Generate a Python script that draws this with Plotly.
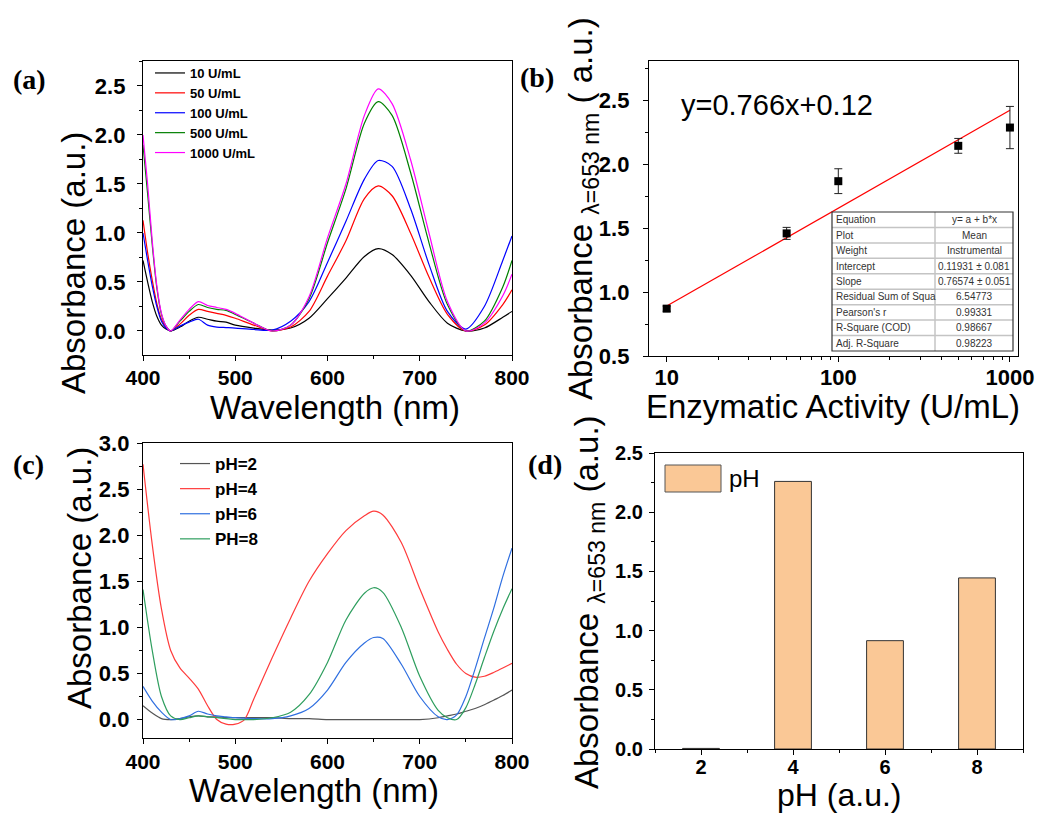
import plotly.graph_objects as go

W, H = 1038, 814
F = "Liberation Sans, Arial, sans-serif"
FS = "Liberation Serif, Times New Roman, serif"

# ---------------- panel (a) data ----------------
wl_a = [400, 405, 410, 415, 420, 425, 430, 440, 450, 460, 470, 480, 490, 500, 520, 540,
        560, 580, 600, 620, 640, 655, 670, 690, 710, 730, 750, 770, 790, 800]
a_names = ["10 U/mL", "50 U/mL", "100 U/mL", "500 U/mL", "1000 U/mL"]
a_colors = ["#000000", "#ff0000", "#0000ff", "#008000", "#ff00ff"]
a_10 = [0.72, 0.50, 0.30, 0.15, 0.06, 0.02, 0.0, 0.04, 0.10, 0.14, 0.12, 0.10, 0.09, 0.06, 0.03, 0.01,
        0.03, 0.13, 0.33, 0.54, 0.76, 0.84, 0.78, 0.57, 0.30, 0.08, 0.0, 0.03, 0.14, 0.20]
a_50 = [1.13, 0.80, 0.52, 0.28, 0.12, 0.04, 0.0, 0.07, 0.16, 0.22, 0.20, 0.18, 0.16, 0.13, 0.06, 0.0,
        0.04, 0.20, 0.56, 0.92, 1.35, 1.48, 1.38, 1.00, 0.55, 0.17, 0.0, 0.06, 0.27, 0.42]
a_100 = [1.00, 0.72, 0.46, 0.25, 0.10, 0.03, 0.0, 0.05, 0.09, 0.12, 0.06, 0.04, 0.035, 0.03, 0.015, 0.01,
         0.10, 0.30, 0.70, 1.12, 1.55, 1.74, 1.68, 1.25, 0.68, 0.20, 0.02, 0.25, 0.72, 0.97]
a_500 = [1.90, 1.40, 0.88, 0.44, 0.17, 0.05, 0.0, 0.10, 0.20, 0.27, 0.24, 0.22, 0.21, 0.17, 0.08, 0.0,
         0.06, 0.33, 0.90, 1.45, 2.12, 2.34, 2.20, 1.62, 0.90, 0.27, 0.0, 0.10, 0.45, 0.72]
a_1000 = [2.00, 1.50, 0.92, 0.46, 0.18, 0.05, 0.0, 0.11, 0.22, 0.30, 0.26, 0.24, 0.22, 0.18, 0.08, 0.0,
          0.06, 0.35, 0.95, 1.50, 2.20, 2.47, 2.32, 1.75, 1.00, 0.30, 0.0, 0.08, 0.36, 0.58]
a_series = [a_10, a_50, a_100, a_500, a_1000]

# ---------------- panel (b) data ----------------
activity = [10, 50, 100, 500, 1000]
abs653 = [0.87, 1.458, 1.866, 2.142, 2.285]
abs653_err = [0.02, 0.047, 0.097, 0.058, 0.165]
fit_x = [10, 1000]
fit_y = [0.89, 2.42]
fit_label = "y=0.766x+0.12"
table_keys = ["Equation", "Plot", "Weight", "Intercept", "Slope", "Residual Sum of Squa",
              "Pearson's r", "R-Square (COD)", "Adj. R-Square"]
table_vals = ["y= a + b*x", "Mean", "Instrumental", "0.11931 ± 0.081", "0.76574 ± 0.051",
              "6.54773", "0.99331", "0.98667", "0.98223"]

# ---------------- panel (c) data ----------------
wl_c = [400, 410, 420, 430, 440, 450, 460, 470, 480, 490, 500, 510, 520, 540, 560, 580, 600, 620,
        640, 650, 660, 680, 700, 720, 730, 740, 750, 760, 770, 780, 790, 800]
c_names = ["pH=2", "pH=4", "pH=6", "PH=8"]
c_colors = ["#555555", "#ff3b3b", "#2f6fe0", "#2e9e5e"]
c_ph2 = [0.15, 0.07, 0.01, 0.0, 0.01, 0.03, 0.04, 0.03, 0.03, 0.02, 0.02, 0.02, 0.02, 0.02, 0.01, 0.01,
         0.0, 0.0, 0.0, 0.0, 0.0, 0.0, 0.0, 0.02, 0.04, 0.06, 0.09, 0.12, 0.16, 0.21, 0.26, 0.32]
c_ph4 = [2.77, 1.90, 1.20, 0.75, 0.56, 0.45, 0.33, 0.15, 0.0, -0.05, -0.05, 0.0, 0.22, 0.67, 1.10, 1.50,
         1.80, 2.05, 2.21, 2.26, 2.22, 1.92, 1.42, 0.95, 0.76, 0.60, 0.50, 0.46, 0.47, 0.51, 0.56, 0.61]
c_ph6 = [0.36, 0.20, 0.08, 0.0, 0.01, 0.04, 0.09, 0.06, 0.04, 0.03, 0.02, 0.015, 0.01, 0.01, 0.04, 0.12,
         0.32, 0.62, 0.83, 0.89, 0.88, 0.60, 0.25, 0.03, 0.0, 0.05, 0.25, 0.55, 0.88, 1.20, 1.55, 1.86]
c_ph8 = [1.41, 0.75, 0.25, 0.04, 0.0, 0.02, 0.04, 0.03, 0.02, 0.01, 0.0, 0.0, 0.0, 0.02, 0.08, 0.27,
         0.62, 1.08, 1.37, 1.43, 1.38, 1.00, 0.47, 0.10, 0.02, 0.0, 0.13, 0.38, 0.67, 0.95, 1.20, 1.42]
c_series = [c_ph2, c_ph4, c_ph6, c_ph8]

# ---------------- panel (d) data ----------------
ph_vals = [2, 4, 6, 8]
ph_abs = [0.005, 2.26, 0.915, 1.445]
bar_color = "#fac896"


def px_x(p):
    return p / W


def px_y(p):
    return 1 - p / H


fig = go.Figure()

for name, col, ys in zip(a_names, a_colors, a_series):
    fig.add_trace(go.Scatter(x=wl_a, y=ys, mode="lines", name=name,
                             line=dict(color=col, width=1.2, shape="spline", smoothing=0.8),
                             xaxis="x", yaxis="y", legend="legend"))

fig.add_trace(go.Scatter(x=fit_x, y=fit_y, mode="lines", line=dict(color="#ff0000", width=1.2),
                         xaxis="x2", yaxis="y2", showlegend=False))
fig.add_trace(go.Scatter(x=activity, y=abs653, mode="markers",
                         marker=dict(symbol="square", size=8, color="black"),
                         error_y=dict(type="data", array=abs653_err, color="#222", thickness=1, width=4),
                         xaxis="x2", yaxis="y2", showlegend=False))

for name, col, ys in zip(c_names, c_colors, c_series):
    fig.add_trace(go.Scatter(x=wl_c, y=ys, mode="lines", name=name,
                             line=dict(color=col, width=1.2, shape="spline", smoothing=0.8),
                             xaxis="x3", yaxis="y3", legend="legend2"))

fig.add_trace(go.Bar(x=ph_vals, y=ph_abs, width=0.8, name="pH",
                     marker=dict(color=bar_color, line=dict(color="#333", width=1)),
                     xaxis="x4", yaxis="y4", showlegend=False))


def ax(size, **kw):
    base = dict(showline=True, linecolor="black", linewidth=1.3, mirror=True,
                ticks="outside", ticklen=5, tickwidth=1.2, tickcolor="black",
                showgrid=False, zeroline=False, automargin=False,
                tickfont=dict(family=F, size=size, color="black", weight="bold"))
    base.update(kw)
    return base


minor_s = dict(ticklen=3, tickwidth=1, tickcolor="black", ticks="outside")

fig.update_layout(
    template="none",
    width=W, height=H, autosize=False,
    margin=dict(l=0, r=0, t=0, b=0, pad=0),
    paper_bgcolor="white", plot_bgcolor="white",
    xaxis=ax(21, domain=[px_x(143), px_x(512)], anchor="y", range=[400, 800], dtick=100,
             minor=dict(dtick=50, **minor_s), ticklabelstandoff=-1),
    yaxis=ax(22, domain=[px_y(355), px_y(61)], anchor="x", range=[-0.245, 2.755], dtick=0.5,
             tickformat=".1f", minor=dict(dtick=0.25, **minor_s), ticklabelstandoff=7),
    xaxis2=ax(22, domain=[px_x(649), px_x(1018)], anchor="y2", type="log", range=[0.897, 3.047],
              tickvals=[10, 100, 1000], ticktext=["10", "100", "1000"],
              minor=dict(tickvals=[20, 30, 40, 50, 60, 70, 80, 90, 200, 300, 400, 500, 600, 700, 800, 900],
                         **minor_s), ticklabelstandoff=-4),
    yaxis2=ax(22, domain=[px_y(356), px_y(61)], anchor="x2", range=[0.5, 2.805], dtick=0.5,
              tickformat=".1f", minor=dict(dtick=0.25, **minor_s), ticklabelstandoff=9),
    xaxis3=ax(21, domain=[px_x(143), px_x(512)], anchor="y3", range=[400, 800], dtick=100,
              minor=dict(dtick=50, **minor_s), ticklabelstandoff=0),
    yaxis3=ax(22, domain=[px_y(738), px_y(443)], anchor="x3", range=[-0.2, 3.0], dtick=0.5,
              tickformat=".1f", minor=dict(dtick=0.25, **minor_s), ticklabelstandoff=3),
    xaxis4=ax(20, domain=[px_x(655), px_x(1023)], anchor="y4", range=[1, 9],
              tickvals=[2, 4, 6, 8], minor=dict(dtick=1, **minor_s), ticklabelstandoff=-5),
    yaxis4=ax(20, domain=[px_y(749), px_y(453)], anchor="x4", range=[0, 2.5], dtick=0.5,
              tickformat=".1f", minor=dict(dtick=0.25, **minor_s), ticklabelstandoff=2),
    legend=dict(x=px_x(150), y=px_y(58), xanchor="left", yanchor="top", bgcolor="rgba(0,0,0,0)",
                font=dict(family=F, size=13, color="black", weight="bold"), tracegroupgap=0,
                itemwidth=30, borderwidth=0),
    legend2=dict(x=px_x(175), y=px_y(446), xanchor="left", yanchor="top", bgcolor="rgba(0,0,0,0)",
                 font=dict(family=F, size=17, color="black", weight="bold"), tracegroupgap=0,
                 itemwidth=30, borderwidth=0),
    bargap=0.2,
    showlegend=True,
)

# fit-results table of panel (b): grid + texts built from table_keys / table_vals
T_X0, T_X1, T_XS, T_Y0, T_Y1 = 832, 1013, 935, 212, 351
n_rows = len(table_keys)
row_h = (T_Y1 - T_Y0) / n_rows
shapes = []
for i in range(1, n_rows):
    yy = T_Y0 + i * row_h
    shapes.append(dict(type="line", xref="paper", yref="paper", x0=px_x(T_X0), x1=px_x(T_X1),
                       y0=px_y(yy), y1=px_y(yy), line=dict(color="#c4c4c4", width=1.5)))
shapes.append(dict(type="line", xref="paper", yref="paper", x0=px_x(T_XS), x1=px_x(T_XS),
                   y0=px_y(T_Y0), y1=px_y(T_Y1), line=dict(color="#c4c4c4", width=1.5)))
shapes.append(dict(type="rect", xref="paper", yref="paper", x0=px_x(T_X0), x1=px_x(T_X1),
                   y0=px_y(T_Y1), y1=px_y(T_Y0), line=dict(color="#333", width=1.2)))
# legend swatch for (d)
shapes.append(dict(type="rect", xref="paper", yref="paper", x0=px_x(665), x1=px_x(721),
                   y0=px_y(492), y1=px_y(465), fillcolor=bar_color, line=dict(color="#555", width=1)))
fig.update_layout(shapes=shapes)

ann = []


def add_text(text, x, y, size, family=F, angle=0, weight="normal", xanchor="center", color="black"):
    ann.append(dict(text=text, x=px_x(x), y=px_y(y), xref="paper", yref="paper", showarrow=False,
                    textangle=angle, xanchor=xanchor, yanchor="middle",
                    font=dict(family=family, size=size, color=color, weight=weight)))


for i, (k, v) in enumerate(zip(table_keys, table_vals)):
    yc = T_Y0 + (i + 0.5) * row_h
    add_text(k, T_X0 + 2, yc, 10, xanchor="left", color="#333")
    add_text(v, (T_XS + T_X1) / 2, yc, 10, color="#333")

TS = 33
add_text("Wavelength (nm)", 335, 407, TS)
add_text("Absorbance (a.u.)", 73, 263, TS, angle=-90)
add_text("Enzymatic Activity (U/mL)", 833, 406, TS)
add_text("Absorbance <sub>λ=653 nm</sub> ( a.u.)", 583, 209, TS, angle=-90)
add_text("Wavelength (nm)", 314, 790, TS)
add_text("Absorbance (a.u.)", 79, 578, TS, angle=-90)
add_text("pH (a.u.)", 839, 795, 32)
add_text("Absorbance <sub>λ=653 nm</sub> (a.u.)", 589, 602, TS, angle=-90)
add_text(fit_label, 777, 105, 29)
add_text("pH", 727, 478, 24, xanchor="left")
add_text("(a)", 29, 79, 28, family=FS, weight="bold")
add_text("(b)", 537, 78, 28, family=FS, weight="bold")
add_text("(c)", 28, 464, 28, family=FS, weight="bold")
add_text("(d)", 545, 464, 28, family=FS, weight="bold")
fig.update_layout(annotations=ann)

fig.write_html("out.html")
